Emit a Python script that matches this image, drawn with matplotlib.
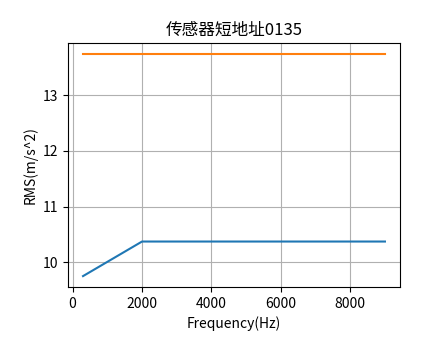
import matplotlib
matplotlib.use('Agg')
import matplotlib.pyplot as plt

plt.rcParams['font.family'] = ['Noto Sans CJK SC', 'DejaVu Sans']
plt.rcParams['axes.unicode_minus'] = False

# Data
freq = [300, 2000, 9000]
rms_a = [9.755, 10.375, 10.375]
rms_b = [13.735, 13.735, 13.735]

fig = plt.figure(figsize=(4.44, 3.59), dpi=100)
ax = fig.add_axes([0.153, 0.2, 0.748, 0.68])
ax.plot(freq, rms_a)
ax.plot(freq, rms_b)
ax.set_xlabel('Frequency(Hz)')
ax.set_ylabel('RMS(m/s^2)')
ax.set_title('传感器短地址0135')
ax.grid(True)
fig.savefig('out.png', dpi=100)
